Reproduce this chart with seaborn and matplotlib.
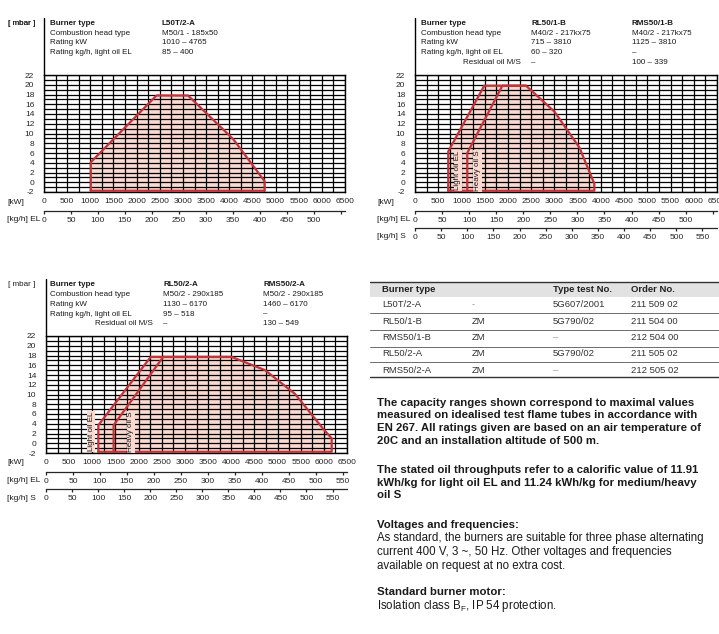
import numpy as np
import matplotlib
matplotlib.use('Agg')
import matplotlib.pyplot as plt
import seaborn as sns

# capacity ranges: firing rate [kW] vs combustion chamber pressure [mbar]
kw_l50t = [1010, 1010, 2430, 3110, 4090, 4765, 4765]
mbar_l50t = [-1.75, 4.1, 17.8, 17.8, 8.8, 0.2, -1.75]

kw_rl50_1b = [715, 715, 1490, 2390, 3000, 3540, 3860, 3860]
mbar_rl50_1b = [-1.75, 6.3, 19.8, 19.8, 14.5, 7.1, -0.3, -1.75]
kw_rms50_1b = [1125, 1125, 1880, 2390]
mbar_rms50_1b = [-1.75, 6.0, 19.8, 19.8]

kw_rl50_2a = [1130, 1130, 2260, 4010, 4730, 5380, 5990, 6170, 6170]
mbar_rl50_2a = [-1.75, 3.7, 17.7, 17.7, 15.0, 10.1, 2.9, 1.0, -1.75]
kw_rms50_2a = [1460, 1460, 2530, 4010]
mbar_rms50_2a = [-1.75, 3.7, 17.7, 17.7]

# kW per kg/h on the secondary scales
kw_per_kg_el = 11.65
kw_per_kg_s = 11.25

kw_ticks = list(range(0, 6501, 500))
mbar_ticks = list(range(-2, 23, 2))
kg_ticks = list(range(0, 551, 50))

# header blocks
head_rows = ['Combustion head type', 'Rating kW', 'Rating kg/h, light oil EL']
head1 = ['L50T/2-A', 'M50/1 - 185x50', '1010 – 4765', '85 – 400']
head2a = ['RL50/1-B', 'M40/2 - 217kx75', '715 – 3810', '60 – 320', '–']
head2b = ['RMS50/1-B', 'M40/2 - 217kx75', '1125 – 3810', '–', '100 – 339']
head3a = ['RL50/2-A', 'M50/2 - 290x185', '1130 – 6170', '95 – 518', '–']
head3b = ['RMS50/2-A', 'M50/2 - 290x185', '1460 – 6170', '–', '130 – 549']

# order table
tbl_burner = ['L50T/2-A', 'RL50/1-B', 'RMS50/1-B', 'RL50/2-A', 'RMS50/2-A']
tbl_zm = ['-', 'ZM', 'ZM', 'ZM', 'ZM']
tbl_test = ['5G607/2001', '5G790/02', '–', '5G790/02', '–']
tbl_order = ['211 509 02', '211 504 00', '212 504 00', '211 505 02', '212 505 02']

sns.set_style('white')
plt.rcParams['font.family'] = ['Liberation Sans', 'DejaVu Sans']
plt.rcParams['mathtext.default'] = 'regular'
plt.rcParams['axes.unicode_minus'] = False

W, H = 719, 634
fig = plt.figure(figsize=(W / 100, H / 100), dpi=100)

fill_c = '#fadad0'
edge_c = '#c4323a'
txt_c = '#1a1a1a'
tick_fs = 6


def fx(x, y):
    return x / W, 1 - y / H


def box(l, t, r, b):
    return [l / W, 1 - b / H, (r - l) / W, (b - t) / H]


def chart(left, top, right, bottom, outer, inner, show_s, el_last):
    ax = fig.add_axes(box(left, top, right, bottom))
    ax.set_xlim(0, 6500)
    ax.set_ylim(-2, 22)
    ax.set_xticks(kw_ticks)
    ax.set_xticks(np.arange(0, 6501, 250), minor=True)
    ax.set_yticks(mbar_ticks)
    ax.set_yticks(np.arange(-2, 23, 1), minor=True)
    ax.grid(True, which='both', color='black', lw=0.9)
    ax.set_axisbelow(False)
    ax.tick_params(axis='y', which='major', length=6, width=0.9, labelsize=tick_fs, pad=1)
    ax.tick_params(axis='x', which='major', length=0, labelsize=tick_fs, pad=4)
    ax.tick_params(which='minor', length=0)
    for s in ax.spines.values():
        s.set_color('black')
        s.set_linewidth(1)
    ax.plot([0, 0], [1, 1.49], transform=ax.transAxes, color='black', lw=1, clip_on=False)

    kw, mb = outer
    ax.fill(kw, mb, color=fill_c, lw=0, zorder=1)
    sns.lineplot(x=kw + [kw[0]], y=mb + [mb[0]], sort=False, estimator=None,
                 color=edge_c, lw=1.6, ax=ax, zorder=3)
    if inner is not None:
        sns.lineplot(x=inner[0], y=inner[1], sort=False, estimator=None,
                     color=edge_c, lw=1.6, ax=ax, zorder=3)
    ax.set_xlabel('')
    ax.set_ylabel('')

    scales = [(-0.162, kw_per_kg_el)]
    if show_s:
        scales.append((-0.308, kw_per_kg_s))
    for i, (loc, k) in enumerate(scales):
        sec = ax.secondary_xaxis(loc, functions=(lambda x, k=k: x / k, lambda x, k=k: x * k))
        sec.set_xticks(kg_ticks)
        labels = [str(v) for v in kg_ticks]
        if i == 0 and not el_last:
            labels[-1] = ''
        sec.set_xticklabels(labels)
        sec.tick_params(length=2.5, width=0.9, labelsize=tick_fs, pad=2)
        sec.spines['bottom'].set_linewidth(0.9)
    return ax


def header(x0, y0, cols, col_x, resid):
    hf = 5.8
    fig.text(*fx(8, y0), '[ mbar ]', fontsize=5.8, va='center', color=txt_c)
    fig.text(*fx(x0, y0), 'Burner type', fontsize=hf, va='center', weight='bold', color=txt_c)
    for i, r in enumerate(head_rows):
        fig.text(*fx(x0, y0 + 9.7 * (i + 1)), r, fontsize=hf, va='center', color=txt_c)
    if resid:
        fig.text(*fx(col_x[0] - 10, y0 + 9.7 * 4), 'Residual oil M/S', fontsize=hf,
                 va='center', ha='right', color=txt_c)
    for c, cx in zip(cols, col_x):
        for i, v in enumerate(c):
            fig.text(*fx(cx, y0 + 9.7 * i), v, fontsize=hf, va='center', color=txt_c,
                     weight='bold' if i == 0 else 'normal')


def axis_names(x0, ys, names):
    for n, y in zip(['[kW]', '[kg/h] EL', '[kg/h] S'][:names], ys):
        fig.text(*fx(x0, y), n, fontsize=6, va='center', color=txt_c)


def oil_labels(ax, xs):
    for x, t in zip(xs, ['Light oil EL', 'Heavy oil S']):
        ax.text(x, 2.4, t, rotation=90, ha='center', va='center', fontsize=5.8, color=txt_c,
                bbox=dict(facecolor=fill_c, edgecolor='none', pad=0.5), zorder=4)


# chart 1
chart(44, 75, 345, 192, (kw_l50t, mbar_l50t), None, False, False)
header(50, 23.5, [head1], [162], False)
axis_names(7, [202, 219], 2)

# chart 2
ax2 = chart(415, 75, 717, 192, (kw_rl50_1b, mbar_rl50_1b), (kw_rms50_1b, mbar_rms50_1b), True, False)
header(421, 23.5, [head2a, head2b], [531, 632], True)
axis_names(377, [202, 219, 237], 3)
oil_labels(ax2, [925, 1345])

# chart 3
ax3 = chart(46, 336, 347, 453, (kw_rl50_2a, mbar_rl50_2a), (kw_rms50_2a, mbar_rms50_2a), True, True)
header(50, 285, [head3a, head3b], [163, 263], True)
axis_names(7, [463, 480, 498], 3)
oil_labels(ax3, [975, 1830])

# order table
axt = fig.add_axes(box(370, 280, 719, 380))
axt.set_xlim(370, 719)
axt.set_ylim(380, 280)
axt.axis('off')
axt.axhspan(281.7, 296.7, color='#e2e2e2', lw=0)
axt.axhline(281.7, color='#333333', lw=1.0)
for y in [313.3, 330, 346.7, 362]:
    axt.axhline(y, color='#555555', lw=0.6)
axt.axhline(377, color='#333333', lw=1.0)
tf = 6.8
for x, t in [(382, 'Burner type'), (553, 'Type test No.'), (631, 'Order No.')]:
    axt.text(x, 289.3, t, fontsize=tf, weight='bold', va='center', color='#222222')
for i, (b, z, t, o) in enumerate(zip(tbl_burner, tbl_zm, tbl_test, tbl_order)):
    y = 305 + 16.3 * i
    axt.text(382, y, b, fontsize=tf, va='center', color='#333333')
    axt.text(472, y, z, fontsize=tf, va='center', color='#999999' if z == '-' else '#333333')
    axt.text(553, y, t, fontsize=tf, va='center', color='#999999' if t == '–' else '#333333')
    axt.text(631, y, o, fontsize=tf, va='center', color='#333333')

# notes
bold_lines = [
    (403, 'The capacity ranges shown correspond to maximal values'),
    (415.5, 'measured on idealised test flame tubes in accordance with'),
    (428, 'EN 267. All ratings given are based on an air temperature of'),
    (440.5, '20C and an installation altitude of 500 m.'),
    (470, 'The stated oil throughputs refer to a calorific value of 11.91'),
    (482.5, 'kWh/kg for light oil EL and 11.24 kWh/kg for medium/heavy'),
    (495, 'oil S'),
    (525, 'Voltages and frequencies:'),
    (592, 'Standard burner motor:'),
]
for y, t in bold_lines:
    fig.text(*fx(377, y), t, fontsize=8.2, weight='bold', va='center', color=txt_c)
plain_lines = [
    (538.5, 'As standard, the burners are suitable for three phase alternating'),
    (552, 'current 400 V, 3 ~, 50 Hz. Other voltages and frequencies'),
    (565.5, 'available on request at no extra cost.'),
    (605.5, 'Isolation class B$_{F}$, IP 54 protection.'),
]
for y, t in plain_lines:
    fig.text(*fx(377, y), t, fontsize=8.3, va='center', color=txt_c)

fig.savefig('out.png', dpi=100)
